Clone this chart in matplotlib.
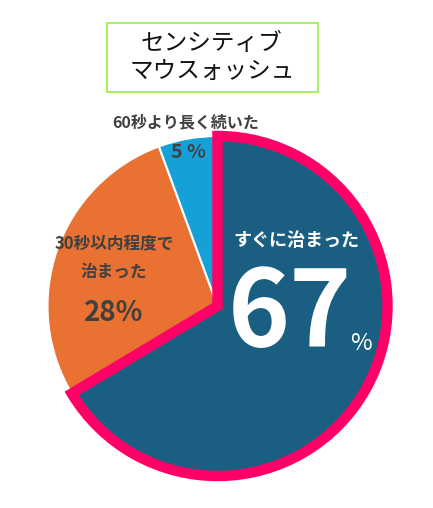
import matplotlib.pyplot as plt
from matplotlib.patches import Rectangle

plt.rcParams['font.family'] = ['Noto Sans CJK JP', 'DejaVu Sans']

# data (slice sizes, labels as printed)
labels = ['すぐに治まった', '30秒以内程度で治まった', '60秒より長く続いた']
values = [66.4, 28.0, 5.6]
value_text = ['67', '28%', '5 %']
colors = ['#1a5f82', '#e97132', '#16a0d8']
title_lines = ['センシティブ', 'マウスォッシュ']

W, H = 433, 508
fig = plt.figure(figsize=(W / 100, H / 100), dpi=100)
ax = fig.add_axes([0, 0, 1, 1])
ax.axis('off')

def Y(y):
    return H - y

wedges, _ = ax.pie(values, colors=colors, startangle=90, counterclock=False,
                   center=(217.5, Y(306)), radius=170,
                   wedgeprops=dict(edgecolor='white', linewidth=1.5))
ax.set_xlim(0, W)
ax.set_ylim(0, H)
ax.set_aspect('equal')

# pink frame on the big slice
wedges[0].set_edgecolor('#ff0066')
wedges[0].set_linewidth(7.5)
wedges[0].set_joinstyle('miter')
wedges[0].set_zorder(5)

# title box
ax.add_patch(Rectangle((107, Y(92)), 211, 69, fill=False,
                       edgecolor='#99ee44', linewidth=1.2))
ax.text(212, Y(43), title_lines[0], ha='center', va='center', fontsize=17, color='#111111')
ax.text(212, Y(72), title_lines[1], ha='center', va='center', fontsize=17, color='#111111')

gray = '#404040'
# 5% slice
ax.text(186, Y(122), labels[2], ha='center', va='center', fontsize=11.5,
        fontweight='bold', color=gray)
ax.text(188, Y(152), value_text[2], ha='center', va='center', fontsize=14,
        fontweight='bold', color=gray)

# 28% slice
ax.text(114, Y(243), '30秒以内程度で', ha='center', va='center', fontsize=12,
        fontweight='bold', color=gray)
ax.text(114, Y(272), '治まった', ha='center', va='center', fontsize=12,
        fontweight='bold', color=gray)
ax.text(114, Y(313), value_text[1], ha='center', va='center', fontsize=20,
        fontweight='bold', color=gray)

# 67% slice
ax.text(296, Y(240), labels[0], ha='center', va='center', fontsize=13,
        fontweight='bold', color='white', zorder=6)
ax.text(290, Y(316), value_text[0], ha='center', va='center', fontsize=76,
        fontweight='bold', color='white', zorder=6)
ax.text(361, Y(344), '%', ha='center', va='center', fontsize=17,
        color='white', zorder=6)

fig.savefig('out.png', dpi=100)
